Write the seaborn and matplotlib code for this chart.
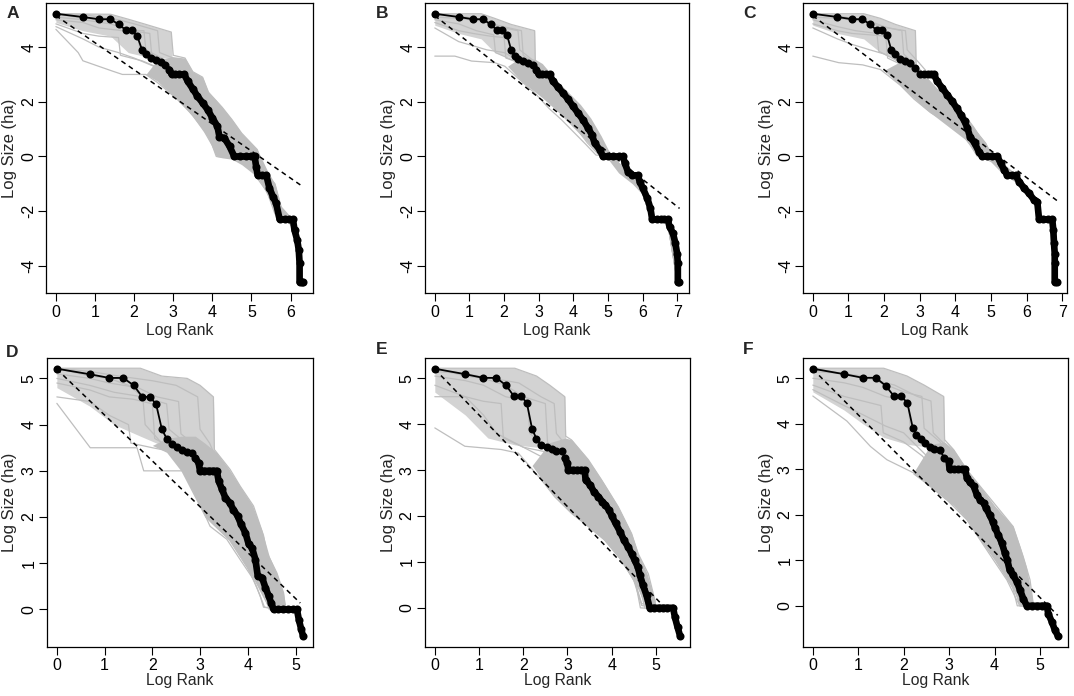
import pandas as pd
import seaborn as sns
import matplotlib.pyplot as plt

# ---------------------------------------------------------------
# Datos (log rank, log size) por panel
# ---------------------------------------------------------------
obs_x_a = [0, 0.69, 1.1, 1.39, 1.61, 1.79, 1.95, 2.08, 2.2, 2.3, 2.43, 2.55, 2.68, 2.79, 2.9,
           2.96, 3.05, 3.15, 3.28, 3.37, 3.5, 3.62, 3.75, 3.88, 4.0, 4.13, 4.18, 4.31, 4.44,
           4.56, 4.7, 4.85, 5.0, 5.08, 5.12, 5.16, 5.27, 5.38, 5.46, 5.55, 5.63, 5.72, 5.85,
           5.95, 6.06, 6.1, 6.17, 6.21, 6.23, 6.23, 6.28, 6.32]
obs_y_a = [5.22, 5.10, 5.02, 5.02, 4.83, 4.62, 4.62, 4.40, 3.91, 3.73, 3.60, 3.51, 3.45, 3.36, 3.18,
           3.0, 3.0, 3.0, 3.0, 2.75, 2.47, 2.2, 1.96, 1.71, 1.41, 1.1, 0.73, 0.67, 0.37,
           0.0, 0.0, 0.0, 0.0, 0.0, -0.37, -0.69, -0.69, -0.69, -1.16, -1.47, -1.71, -2.3, -2.3,
           -2.3, -2.3, -2.69, -3.06, -3.43, -3.91, -4.6, -4.6, -4.6]

obs_x_b = [0, 0.69, 1.1, 1.39, 1.61, 1.79, 1.95, 2.08, 2.2, 2.3, 2.4, 2.55, 2.69, 2.83, 2.93,
           3.0, 3.1, 3.2, 3.31, 3.41, 3.55, 3.7, 3.84, 3.99, 4.13, 4.27, 4.42, 4.53, 4.61,
           4.76, 4.85, 5.0, 5.15, 5.3, 5.43, 5.48, 5.57, 5.7, 5.86, 5.91, 6.0, 6.13, 6.22,
           6.27, 6.4, 6.52, 6.62, 6.72, 6.77, 6.87, 6.94, 6.99, 7.01, 7.01, 7.05]
obs_y_b = [5.22, 5.1, 5.02, 5.02, 4.83, 4.62, 4.62, 4.46, 3.91, 3.67, 3.57, 3.49, 3.43, 3.36, 3.18,
           3.0, 3.0, 3.0, 3.0, 2.75, 2.54, 2.32, 2.1, 1.83, 1.59, 1.35, 1.04, 0.8, 0.49,
           0.24, 0.0, 0.0, 0.0, 0.0, 0.0, -0.24, -0.55, -0.69, -0.69, -0.92, -1.16, -1.53, -1.9,
           -2.3, -2.3, -2.3, -2.3, -2.3, -2.57, -2.81, -3.18, -3.55, -3.91, -4.6, -4.6]

obs_x_c = [0, 0.69, 1.1, 1.39, 1.61, 1.79, 1.95, 2.08, 2.2, 2.32, 2.46, 2.6, 2.74, 2.88, 3.02,
           3.12, 3.22, 3.31, 3.4, 3.49, 3.63, 3.77, 3.91, 4.04, 4.15, 4.26, 4.34, 4.41, 4.54,
           4.66, 4.76, 4.9, 5.04, 5.18, 5.27, 5.37, 5.46, 5.58, 5.69, 5.79, 5.93, 6.07, 6.21,
           6.3, 6.35, 6.47, 6.6, 6.72, 6.75, 6.77, 6.79, 6.79, 6.79, 6.86]
obs_y_c = [5.22, 5.1, 5.02, 5.02, 4.83, 4.62, 4.62, 4.46, 3.91, 3.73, 3.57, 3.49, 3.43, 3.24, 3.0,
           3.0, 3.0, 3.0, 3.0, 2.75, 2.51, 2.26, 2.02, 1.77, 1.53, 1.28, 1.04, 0.73, 0.49,
           0.18, 0.0, 0.0, 0.0, 0.0, -0.24, -0.49, -0.69, -0.69, -0.69, -0.92, -1.16, -1.35, -1.59,
           -1.65, -2.3, -2.3, -2.3, -2.3, -2.69, -3.18, -3.55, -3.91, -4.6, -4.6]

obs_x_d = [0, 0.69, 1.1, 1.39, 1.61, 1.79, 1.95, 2.08, 2.2, 2.31, 2.41, 2.52, 2.62, 2.73, 2.83,
           2.9, 2.97, 3.0, 3.09, 3.18, 3.27, 3.35, 3.39, 3.46, 3.53, 3.62, 3.7, 3.79, 3.86,
           3.95, 4.02, 4.09, 4.16, 4.21, 4.3, 4.37, 4.44, 4.49, 4.54, 4.64, 4.74, 4.84, 4.94,
           5.03, 5.07, 5.12, 5.16]
obs_y_d = [5.21, 5.09, 5.01, 5.01, 4.85, 4.6, 4.6, 4.44, 3.9, 3.68, 3.57, 3.52, 3.46, 3.41, 3.39,
           3.28, 3.17, 3.0, 3.0, 3.0, 3.0, 3.0, 2.78, 2.6, 2.42, 2.31, 2.16, 2.02, 1.84,
           1.66, 1.41, 1.33, 1.08, 0.72, 0.69, 0.47, 0.29, 0.14, 0.0, 0.0, 0.0, 0.0, 0.0,
           0.0, -0.22, -0.43, -0.58]

obs_x_e = [0, 0.69, 1.1, 1.39, 1.61, 1.79, 1.95, 2.08, 2.2, 2.3, 2.41, 2.53, 2.64, 2.75, 2.87,
           2.94, 3.0, 3.02, 3.12, 3.22, 3.31, 3.39, 3.41, 3.51, 3.6, 3.7, 3.79, 3.86, 3.94,
           4.01, 4.09, 4.19, 4.28, 4.37, 4.45, 4.52, 4.59, 4.64, 4.71, 4.79, 4.86, 4.96, 5.06,
           5.16, 5.26, 5.39, 5.43, 5.49, 5.55]
obs_y_e = [5.21, 5.09, 5.01, 5.01, 4.85, 4.61, 4.61, 4.47, 3.9, 3.68, 3.55, 3.5, 3.46, 3.42, 3.41,
           3.26, 3.15, 3.0, 3.0, 3.0, 3.0, 3.0, 2.79, 2.68, 2.53, 2.42, 2.31, 2.24, 2.13,
           1.99, 1.84, 1.66, 1.47, 1.33, 1.18, 1.04, 0.89, 0.71, 0.49, 0.27, 0.0, 0.0, 0.0,
           0.0, 0.0, 0.0, -0.2, -0.42, -0.62]

obs_x_f = [0, 0.69, 1.1, 1.39, 1.61, 1.79, 1.95, 2.08, 2.2, 2.28, 2.38, 2.47, 2.57, 2.67, 2.8,
           2.89, 2.99, 3.01, 3.1, 3.2, 3.28, 3.35, 3.39, 3.46, 3.54, 3.61, 3.68, 3.76, 3.81,
           3.89, 3.96, 4.01, 4.08, 4.16, 4.23, 4.28, 4.33, 4.4, 4.49, 4.56, 4.63, 4.71, 4.82,
           4.93, 5.04, 5.15, 5.18, 5.26, 5.33, 5.4]
obs_y_f = [5.21, 5.09, 5.01, 5.01, 4.83, 4.6, 4.6, 4.46, 3.91, 3.76, 3.67, 3.58, 3.49, 3.45, 3.42,
           3.25, 3.18, 3.0, 3.0, 3.0, 3.0, 3.0, 2.81, 2.71, 2.63, 2.44, 2.33, 2.26, 2.15,
           2.0, 1.85, 1.71, 1.56, 1.38, 1.15, 1.01, 0.79, 0.68, 0.53, 0.35, 0.16, 0.0, 0.0,
           0.0, 0.0, 0.0, -0.17, -0.35, -0.54, -0.67]

# recta ajustada (discontinua)
fit_x_a, fit_y_a = [0, 6.31], [5.15, -1.10]
fit_x_b, fit_y_b = [0, 7.06], [5.15, -1.90]
fit_x_c, fit_y_c = [0, 6.86], [5.15, -1.62]
fit_x_d, fit_y_d = [0, 5.10], [5.20, 0.14]
fit_x_e, fit_y_e = [0, 5.09], [5.20, 0.12]
fit_x_f, fit_y_f = [0, 5.39], [5.20, -0.21]

# zona densa de simulaciones (envolvente gris)
band_x_a = [2.3, 2.6, 3.0, 3.3, 3.5, 3.75, 3.9, 4.1, 4.25, 4.5, 4.75, 5.15, 5.4, 5.6, 5.75, 6.0]
band_lo_a = [3.0, 2.75, 2.2, 1.8, 1.45, 1.0, 0.65, 0.0, -0.05, -0.1, -0.3, -0.75, -1.3, -2.0, -2.3, -2.4]
band_hi_a = [3.0, 3.55, 3.65, 3.6, 3.1, 2.9, 2.35, 2.05, 1.8, 1.35, 0.85, 0.25, -0.5, -1.0, -1.8, -2.2]
band_x_b = [2.1, 2.5, 2.9, 3.1, 3.5, 3.85, 4.2, 4.5, 4.8, 5.0, 5.3, 5.7, 6.0]
band_lo_b = [3.3, 2.75, 2.35, 2.15, 1.7, 1.25, 0.8, 0.4, 0.0, -0.1, -0.6, -1.0, -1.4]
band_hi_b = [3.3, 3.65, 3.55, 3.4, 2.8, 2.35, 1.9, 1.4, 0.75, 0.25, -0.2, -0.7, -1.1]
band_x_c = [2.0, 2.5, 2.9, 3.2, 3.6, 3.95, 4.3, 4.6, 4.85, 5.0, 5.3, 5.7, 6.1]
band_lo_c = [3.15, 2.55, 2.05, 1.7, 1.3, 0.95, 0.6, 0.05, -0.1, -0.2, -0.6, -0.95, -1.5]
band_hi_c = [3.15, 3.5, 3.35, 2.85, 2.3, 1.85, 1.4, 0.9, 0.5, 0.1, -0.2, -0.65, -1.2]
band_x_d = [2.0, 2.3, 2.6, 2.9, 3.1, 3.35, 3.6, 3.85, 4.1, 4.3, 4.45, 4.6, 4.75, 4.8]
band_lo_d = [3.55, 3.4, 3.0, 2.4, 2.0, 1.75, 1.5, 1.1, 0.7, 0.3, 0.0, -0.05, -0.05, -0.05]
band_hi_d = [3.55, 3.7, 3.75, 3.75, 3.6, 3.39, 3.05, 2.65, 2.25, 1.7, 1.15, 0.8, 0.35, 0.05]
band_x_e = [2.2, 2.6, 2.95, 3.1, 3.47, 3.8, 4.15, 4.45, 4.6, 4.8, 4.98]
band_lo_e = [3.1, 2.55, 2.2, 2.05, 1.77, 1.5, 1.1, 0.65, 0.4, -0.02, -0.02]
band_hi_e = [3.1, 3.6, 3.7, 3.66, 3.23, 2.75, 2.2, 1.62, 1.18, 0.75, 0.16]
band_x_f = [2.2, 2.6, 2.9, 3.1, 3.39, 3.68, 4.0, 4.27, 4.41, 4.56, 4.7, 4.85]
band_lo_f = [2.9, 2.6, 2.35, 2.2, 1.89, 1.45, 1.0, 0.57, 0.35, 0.0, -0.02, -0.02]
band_hi_f = [2.9, 3.55, 3.6, 3.43, 2.99, 2.63, 2.2, 1.9, 1.74, 1.3, 0.85, 0.05]

# bloque superior izquierdo (lineas grises muy juntas)
block_x_a = [0, 0.69, 1.4, 1.85, 2.3, 2.95, 2.97]
block_lo_a = [4.9, 4.6, 4.4, 3.8, 3.65, 3.6, 3.62]
block_hi_a = [5.22, 5.22, 5.2, 5.02, 4.83, 4.55, 3.67]
block_x_b = [0, 0.69, 1.34, 1.73, 2.2, 2.88, 2.9]
block_lo_b = [4.8, 4.5, 4.3, 3.8, 3.6, 3.45, 3.35]
block_hi_b = [5.22, 5.22, 5.22, 5.05, 4.83, 4.6, 3.4]
block_x_c = [0, 0.69, 1.43, 1.9, 2.32, 2.88, 2.9]
block_lo_c = [4.8, 4.5, 4.3, 3.8, 3.6, 3.4, 3.36]
block_hi_c = [5.22, 5.22, 5.22, 5.05, 4.83, 4.6, 3.4]
block_x_d = [0, 0.69, 1.2, 1.75, 2.2, 2.73, 3.0, 3.28, 3.3]
block_lo_d = [4.8, 4.4, 4.0, 3.75, 3.55, 3.5, 3.4, 3.4, 3.42]
block_hi_d = [5.22, 5.22, 5.22, 5.22, 5.05, 5.0, 4.85, 4.6, 3.46]
block_x_e = [0, 0.69, 1.2, 1.81, 2.3, 2.6, 2.94, 2.96]
block_lo_e = [4.7, 4.2, 3.7, 3.55, 3.5, 3.5, 3.5, 3.6]
block_hi_e = [5.22, 5.22, 5.22, 5.22, 5.05, 4.85, 4.6, 3.74]
block_x_f = [0, 0.69, 1.1, 1.56, 2.07, 2.45, 2.88, 2.9]
block_lo_f = [4.7, 4.3, 4.0, 3.7, 3.55, 3.5, 3.5, 3.55]
block_hi_f = [5.22, 5.22, 5.22, 5.22, 5.05, 4.85, 4.6, 3.65]

# algunas curvas simuladas (grises) leidas a ojo
sims_a = [
    [(0, 5.22), (1.4, 5.2), (1.85, 5.02), (2.3, 4.83), (2.95, 4.55), (3.0, 3.7), (3.3, 3.6), (3.5, 3.1),
     (3.75, 2.9), (3.9, 2.35), (4.25, 1.8), (4.5, 1.35), (4.75, 0.85), (5.15, 0.25), (5.3, -0.5),
     (5.6, -1.0), (5.75, -1.8), (5.85, -2.3), (6.1, -2.4), (6.25, -3.5), (6.28, -4.6)],
    [(0, 5.22), (0.69, 5.2), (1.1, 5.1), (1.6, 5.0), (2.0, 4.85), (2.6, 4.6), (2.65, 3.8), (3.0, 3.6),
     (3.3, 3.2), (3.6, 2.7), (3.9, 2.2), (4.2, 1.6), (4.45, 1.0), (4.7, 0.5), (4.95, 0.0), (5.2, -0.6),
     (5.5, -1.2), (5.7, -2.0), (5.9, -2.3), (6.15, -2.8), (6.25, -4.6)],
    [(0, 5.1), (0.69, 5.0), (1.4, 4.85), (1.9, 4.6), (2.4, 4.5), (2.45, 3.7), (2.8, 3.5), (3.1, 3.0),
     (3.5, 2.5), (3.8, 2.0), (4.1, 1.3), (4.35, 0.7), (4.6, 0.2), (4.9, -0.1), (5.2, -0.7), (5.45, -1.3),
     (5.7, -2.2), (6.0, -2.35), (6.2, -3.0), (6.26, -4.6)],
    [(0, 5.0), (0.69, 4.9), (1.1, 4.7), (1.7, 4.6), (2.1, 4.45), (2.15, 3.8), (2.6, 3.55), (2.9, 3.3),
     (3.2, 2.8), (3.5, 2.3), (3.8, 1.7), (4.0, 1.1), (4.3, 0.5), (4.5, 0.0), (5.0, -0.2), (5.2, -0.7),
     (5.5, -1.4), (5.65, -2.3), (6.05, -2.3), (6.2, -3.3), (6.24, -4.6)],
    [(0, 4.85), (0.69, 4.5), (1.1, 4.4), (1.6, 4.35), (1.65, 3.7), (2.2, 3.5), (2.7, 3.2), (3.0, 2.9),
     (3.3, 2.4), (3.6, 1.9), (3.9, 1.3), (4.1, 0.6), (4.3, 0.1), (4.9, 0.0), (5.15, -0.7), (5.4, -1.2),
     (5.65, -2.0), (5.8, -2.3), (6.1, -2.5), (6.22, -4.6)],
    [(0, 4.65), (0.57, 3.8), (0.69, 3.5), (1.45, 3.12), (1.7, 3.0), (2.3, 3.0), (2.6, 2.7), (3.1, 2.1),
     (3.5, 1.5), (3.8, 0.9), (4.0, 0.4), (4.1, 0.0), (4.8, -0.1), (5.1, -0.7), (5.4, -1.3), (5.6, -2.1),
     (5.75, -2.3), (6.1, -2.4), (6.2, -3.4), (6.23, -4.6)],
    [(0, 5.22), (0.69, 5.05), (1.1, 5.0), (1.5, 4.9), (1.75, 4.62), (2.25, 4.6), (2.3, 3.9), (2.7, 3.6),
     (3.1, 3.3), (3.4, 2.9), (3.7, 2.4), (4.0, 1.9), (4.3, 1.2), (4.55, 0.6), (4.8, 0.1), (5.1, -0.3),
     (5.35, -0.9), (5.6, -1.5), (5.75, -2.3), (6.1, -2.3), (6.22, -3.2), (6.26, -4.6)],
    [(0, 4.75), (0.69, 4.3), (1.1, 4.0), (1.6, 3.8), (2.0, 3.6), (2.5, 3.3), (2.8, 3.0), (3.2, 2.5),
     (3.5, 2.0), (3.8, 1.4), (4.0, 0.9), (4.2, 0.3), (4.4, 0.0), (4.9, -0.2), (5.2, -0.8), (5.5, -1.6),
     (5.7, -2.3), (6.0, -2.4), (6.2, -3.6), (6.24, -4.6)],
]
sims_b = [
    [(0, 5.22), (1.34, 5.22), (1.73, 5.05), (2.2, 4.83), (2.88, 4.6), (2.9, 3.35), (3.2, 3.0), (3.5, 2.65),
     (3.85, 2.05), (4.25, 1.55), (4.55, 0.95), (4.85, 0.45), (5.05, 0.0), (5.3, -0.4), (5.7, -0.85),
     (6.0, -1.2), (6.2, -1.7), (6.3, -2.3), (6.7, -2.3), (7.0, -3.5), (7.03, -4.6)],
    [(0, 5.1), (0.69, 5.05), (1.4, 4.95), (1.8, 4.8), (2.5, 4.6), (2.55, 3.7), (2.9, 3.4), (3.3, 2.8),
     (3.7, 2.3), (4.1, 1.6), (4.4, 1.0), (4.7, 0.4), (4.9, 0.0), (5.4, -0.1), (5.6, -0.7), (5.9, -0.9),
     (6.2, -1.8), (6.3, -2.3), (6.75, -2.3), (7.0, -3.8), (7.02, -4.6)],
    [(0, 4.9), (0.69, 4.6), (1.1, 4.5), (1.6, 4.4), (2.0, 4.35), (2.05, 3.6), (2.5, 3.4), (2.9, 3.0),
     (3.3, 2.4), (3.7, 1.9), (4.0, 1.4), (4.3, 0.9), (4.6, 0.3), (4.8, 0.0), (5.4, -0.1), (5.6, -0.7),
     (5.9, -1.0), (6.2, -1.9), (6.3, -2.3), (6.7, -2.3), (7.0, -4.6)],
    [(0, 4.7), (0.69, 4.2), (1.1, 4.05), (1.5, 3.9), (2.0, 3.8), (2.3, 3.6), (2.6, 3.2), (3.0, 2.6),
     (3.4, 2.0), (3.8, 1.5), (4.1, 1.0), (4.4, 0.5), (4.7, 0.1), (5.4, 0.0), (5.6, -0.7), (5.9, -1.0),
     (6.25, -2.3), (6.7, -2.3), (7.0, -4.6)],
    [(0, 3.67), (0.58, 3.67), (1.06, 3.49), (1.73, 3.43), (2.02, 3.3), (2.5, 2.75), (2.9, 2.3),
     (3.3, 1.75), (3.65, 1.35), (4.03, 0.86), (4.35, 0.45), (4.65, 0.05), (5.4, 0.0), (5.6, -0.7),
     (5.9, -1.0), (6.25, -2.3), (6.7, -2.3), (7.0, -4.6)],
    [(0, 5.22), (0.69, 5.15), (1.1, 5.05), (1.6, 4.9), (2.0, 4.7), (2.4, 4.6), (2.45, 3.9), (2.8, 3.55),
     (3.2, 3.1), (3.6, 2.6), (4.0, 2.0), (4.3, 1.4), (4.6, 0.8), (4.9, 0.3), (5.1, 0.0), (5.5, -0.5),
     (5.9, -0.95), (6.2, -1.6), (6.3, -2.3), (6.75, -2.3), (7.02, -4.6)],
    [(0, 5.0), (0.69, 4.85), (1.2, 4.6), (1.7, 4.45), (1.75, 3.8), (2.2, 3.55), (2.7, 3.3), (3.1, 2.8),
     (3.5, 2.3), (3.9, 1.7), (4.2, 1.2), (4.5, 0.6), (4.75, 0.1), (5.4, 0.0), (5.6, -0.7), (5.9, -1.0),
     (6.25, -2.3), (6.7, -2.3), (7.0, -4.6)],
]
sims_c = [
    [(0, 5.22), (1.43, 5.22), (1.9, 5.05), (2.32, 4.83), (2.88, 4.6), (2.9, 3.36), (3.21, 2.85),
     (3.59, 2.32), (3.96, 1.83), (4.34, 1.35), (4.62, 0.86), (4.85, 0.49), (5.0, 0.1), (5.3, -0.25),
     (5.7, -0.7), (6.1, -1.25), (6.3, -1.7), (6.35, -2.3), (6.72, -2.3), (6.78, -4.6)],
    [(0, 5.1), (0.69, 5.05), (1.4, 4.95), (1.8, 4.8), (2.5, 4.6), (2.55, 3.75), (2.9, 3.3), (3.3, 2.7),
     (3.7, 2.1), (4.1, 1.6), (4.45, 1.0), (4.7, 0.5), (4.85, 0.0), (5.3, -0.3), (5.6, -0.7), (6.0, -1.3),
     (6.3, -1.8), (6.35, -2.3), (6.72, -2.3), (6.78, -4.6)],
    [(0, 4.85), (0.69, 4.6), (1.1, 4.5), (1.6, 4.45), (2.05, 4.4), (2.1, 3.6), (2.5, 3.35), (2.9, 2.9),
     (3.3, 2.35), (3.7, 1.8), (4.0, 1.4), (4.35, 0.9), (4.6, 0.3), (4.8, 0.0), (5.2, -0.1), (5.5, -0.7),
     (5.9, -1.1), (6.3, -1.7), (6.35, -2.3), (6.72, -2.3), (6.78, -4.6)],
    [(0, 4.7), (0.69, 4.3), (1.1, 4.1), (1.6, 3.9), (2.0, 3.75), (2.4, 3.5), (2.8, 3.0), (3.2, 2.4),
     (3.6, 1.8), (3.95, 1.3), (4.3, 0.8), (4.6, 0.2), (4.75, 0.0), (5.2, -0.1), (5.5, -0.7), (5.9, -1.1),
     (6.3, -1.7), (6.35, -2.3), (6.72, -2.3), (6.78, -4.6)],
    [(0, 3.67), (0.73, 3.43), (1.4, 3.35), (1.9, 3.18), (2.46, 2.6), (2.84, 2.1), (3.31, 1.6),
     (3.77, 1.25), (4.15, 0.88), (4.43, 0.4), (4.62, 0.0), (5.2, -0.05), (5.5, -0.7), (5.9, -1.05),
     (6.3, -1.7), (6.35, -2.3), (6.72, -2.3), (6.78, -4.6)],
    [(0, 5.22), (0.69, 5.15), (1.1, 5.05), (1.7, 4.9), (2.1, 4.7), (2.6, 4.6), (2.65, 3.9), (3.0, 3.4),
     (3.4, 2.8), (3.8, 2.2), (4.15, 1.7), (4.5, 1.1), (4.75, 0.6), (4.95, 0.2), (5.2, -0.1), (5.6, -0.6),
     (6.0, -1.2), (6.3, -1.65), (6.35, -2.3), (6.72, -2.3), (6.78, -4.6)],
    [(0, 5.0), (0.69, 4.75), (1.2, 4.6), (1.8, 4.5), (1.85, 3.85), (2.3, 3.55), (2.7, 3.2), (3.1, 2.6),
     (3.5, 2.1), (3.9, 1.5), (4.2, 1.1), (4.5, 0.6), (4.7, 0.1), (5.2, 0.0), (5.5, -0.7), (5.9, -1.1),
     (6.3, -1.7), (6.35, -2.3), (6.72, -2.3), (6.78, -4.6)],
]
sims_d = [
    [(0, 5.22), (1.75, 5.22), (2.2, 5.05), (2.73, 5.0), (3.0, 4.85), (3.28, 4.6), (3.3, 3.46),
     (3.63, 3.03), (3.84, 2.67), (4.12, 2.24), (4.33, 1.6), (4.4, 1.23), (4.61, 0.79), (4.75, 0.36),
     (4.78, 0.0), (5.05, -0.05), (5.12, -0.45), (5.15, -0.57)],
    [(0, 5.22), (0.69, 5.15), (1.3, 5.05), (2.0, 4.95), (2.5, 4.85), (2.95, 4.6), (3.0, 3.9), (3.2, 3.6),
     (3.45, 3.0), (3.7, 2.6), (3.95, 2.1), (4.2, 1.6), (4.4, 1.0), (4.6, 0.5), (4.7, 0.0), (5.05, -0.05),
     (5.12, -0.45), (5.15, -0.57)],
    [(0, 5.1), (0.69, 5.0), (1.1, 4.9), (1.7, 4.8), (2.1, 4.6), (2.55, 4.5), (2.6, 3.8), (2.9, 3.55),
     (3.1, 3.3), (3.4, 2.7), (3.7, 2.2), (3.95, 1.7), (4.2, 1.1), (4.45, 0.5), (4.6, 0.0), (5.05, -0.05),
     (5.15, -0.57)],
    [(0, 4.9), (0.69, 4.75), (1.1, 4.6), (1.6, 4.55), (2.0, 4.45), (2.05, 3.7), (2.4, 3.5), (2.8, 3.3),
     (3.0, 3.0), (3.3, 2.5), (3.6, 2.0), (3.85, 1.5), (4.1, 0.9), (4.35, 0.3), (4.45, 0.0), (5.05, -0.05),
     (5.15, -0.57)],
    [(0, 4.6), (0.69, 4.5), (1.1, 4.2), (1.5, 4.0), (1.55, 3.6), (2.0, 3.5), (2.5, 3.4), (2.8, 3.0),
     (3.1, 2.4), (3.4, 1.9), (3.7, 1.4), (4.0, 0.9), (4.2, 0.45), (4.35, 0.05), (5.05, -0.05), (5.15, -0.57)],
    [(0, 4.46), (0.7, 3.5), (1.68, 3.5), (1.82, 3.0), (2.9, 3.0), (2.95, 2.4), (3.21, 1.8), (3.56, 1.52),
     (3.84, 1.08), (4.12, 0.65), (4.26, 0.29), (4.33, 0.05), (5.05, -0.05), (5.15, -0.57)],
    [(0, 5.0), (0.69, 4.85), (1.2, 4.7), (1.8, 4.6), (2.3, 4.45), (2.35, 3.9), (2.7, 3.6), (3.0, 3.4),
     (3.2, 3.0), (3.5, 2.6), (3.8, 2.2), (4.05, 1.7), (4.3, 1.1), (4.5, 0.6), (4.65, 0.1), (5.05, -0.05),
     (5.15, -0.57)],
    [(0, 5.22), (0.69, 5.05), (1.1, 5.0), (1.5, 4.85), (1.8, 4.6), (1.85, 4.0), (2.2, 3.6), (2.6, 3.45),
     (2.9, 3.2), (3.2, 2.8), (3.5, 2.3), (3.8, 1.8), (4.05, 1.3), (4.3, 0.7), (4.5, 0.2), (4.55, 0.0),
     (5.05, -0.05), (5.15, -0.57)],
]
sims_e = [
    [(0, 5.22), (1.81, 5.22), (2.3, 5.05), (2.6, 4.85), (2.94, 4.6), (2.96, 3.74), (3.09, 3.66),
     (3.47, 3.23), (3.77, 2.79), (4.15, 2.2), (4.45, 1.62), (4.6, 1.18), (4.83, 0.74), (4.98, 0.16),
     (5.0, 0.0), (5.4, -0.05), (5.5, -0.45), (5.55, -0.63)],
    [(0, 5.15), (0.69, 5.1), (1.3, 5.0), (1.9, 4.9), (2.4, 4.6), (2.7, 4.45), (2.75, 3.8), (3.0, 3.5),
     (3.3, 3.1), (3.7, 2.6), (4.05, 2.0), (4.35, 1.5), (4.6, 0.9), (4.8, 0.3), (4.9, 0.0), (5.4, -0.05),
     (5.55, -0.63)],
    [(0, 5.05), (0.69, 4.95), (1.1, 4.85), (1.6, 4.6), (2.1, 4.5), (2.15, 3.8), (2.5, 3.5), (2.8, 3.3),
     (3.1, 2.9), (3.5, 2.4), (3.85, 1.9), (4.2, 1.35), (4.5, 0.8), (4.7, 0.2), (4.75, 0.0), (5.4, -0.05),
     (5.55, -0.63)],
    [(0, 4.85), (0.69, 4.6), (1.1, 4.5), (1.5, 4.45), (1.55, 3.7), (2.0, 3.5), (2.5, 3.4), (2.8, 3.0),
     (3.2, 2.5), (3.6, 2.05), (3.95, 1.6), (4.3, 1.05), (4.55, 0.5), (4.65, 0.0), (5.4, -0.05), (5.55, -0.63)],
    [(0, 4.6), (0.69, 4.6), (1.1, 4.2), (1.4, 3.8), (1.9, 3.55), (2.4, 3.3), (2.7, 2.8), (3.1, 2.3),
     (3.5, 1.9), (3.9, 1.5), (4.25, 1.0), (4.5, 0.6), (4.68, 0.05), (5.4, -0.05), (5.55, -0.63)],
    [(0, 3.92), (0.68, 3.52), (1.5, 3.45), (1.89, 3.37), (2.41, 2.79), (2.71, 2.42), (3.09, 2.06),
     (3.47, 1.77), (3.85, 1.47), (4.22, 1.04), (4.52, 0.6), (4.68, 0.09), (5.4, 0.0), (5.55, -0.63)],
    [(0, 5.22), (0.69, 5.05), (1.1, 5.0), (1.6, 4.85), (2.0, 4.6), (2.5, 4.45), (2.55, 3.6), (2.9, 3.4),
     (3.2, 3.0), (3.6, 2.7), (3.95, 2.3), (4.25, 1.8), (4.5, 1.3), (4.7, 0.8), (4.85, 0.2), (4.9, 0.0),
     (5.4, -0.05), (5.55, -0.63)],
]
sims_f = [
    [(0, 5.22), (1.56, 5.22), (2.07, 5.05), (2.45, 4.85), (2.88, 4.6), (2.9, 3.65), (3.1, 3.43),
     (3.39, 2.99), (3.68, 2.63), (4.05, 2.18), (4.41, 1.74), (4.63, 1.08), (4.78, 0.57), (4.85, 0.05),
     (5.15, 0.0), (5.25, -0.35), (5.38, -0.67)],
    [(0, 5.15), (0.69, 5.1), (1.2, 5.0), (1.8, 4.85), (2.3, 4.6), (2.6, 4.5), (2.65, 3.8), (2.95, 3.5),
     (3.3, 3.0), (3.65, 2.55), (4.0, 2.0), (4.3, 1.5), (4.55, 0.9), (4.7, 0.3), (4.75, 0.0), (5.15, 0.0),
     (5.38, -0.67)],
    [(0, 5.0), (0.69, 4.9), (1.1, 4.8), (1.6, 4.6), (2.1, 4.5), (2.15, 3.8), (2.5, 3.55), (2.8, 3.2),
     (3.2, 2.7), (3.55, 2.2), (3.9, 1.75), (4.2, 1.2), (4.45, 0.6), (4.6, 0.05), (5.15, 0.0), (5.38, -0.67)],
    [(0, 4.85), (0.69, 4.6), (1.1, 4.5), (1.5, 4.4), (1.55, 3.8), (2.0, 3.6), (2.4, 3.3), (2.8, 2.9),
     (3.2, 2.4), (3.55, 2.0), (3.9, 1.5), (4.2, 0.95), (4.4, 0.4), (4.5, 0.0), (5.15, 0.0), (5.38, -0.67)],
    [(0, 4.61), (0.75, 4.06), (1.27, 3.5), (1.63, 3.21), (2.22, 2.92), (2.58, 2.63), (2.95, 2.33),
     (3.39, 1.89), (3.68, 1.45), (3.98, 1.0), (4.27, 0.57), (4.49, 0.12), (4.56, 0.0), (5.15, 0.0),
     (5.38, -0.67)],
    [(0, 5.22), (0.69, 5.1), (1.1, 5.05), (1.5, 4.9), (2.0, 4.7), (2.4, 4.6), (2.45, 3.9), (2.8, 3.6),
     (3.1, 3.2), (3.45, 2.75), (3.8, 2.3), (4.15, 1.8), (4.4, 1.3), (4.6, 0.7), (4.7, 0.2), (4.75, 0.0),
     (5.15, 0.0), (5.38, -0.67)],
    [(0, 4.75), (0.69, 4.4), (1.1, 4.2), (1.6, 3.95), (2.0, 3.8), (2.3, 3.5), (2.7, 3.1), (3.0, 2.7),
     (3.4, 2.25), (3.75, 1.8), (4.1, 1.3), (4.35, 0.7), (4.5, 0.2), (4.55, 0.0), (5.15, 0.0), (5.38, -0.67)],
]

xticks_top_a = [0, 1, 2, 3, 4, 5, 6]
xticks_top_bc = [0, 1, 2, 3, 4, 5, 6, 7]
xticks_bottom = [0, 1, 2, 3, 4, 5]
yticks_top = [-4, -2, 0, 2, 4]
yticks_bottom = [0, 1, 2, 3, 4, 5]

GRIS = '#bebebe'
GRIS_CLARO = '#d3d3d3'
W, H = 1074, 696

sns.set_theme(style="ticks", rc={'axes.edgecolor': 'black', 'xtick.color': 'black',
                                 'ytick.color': 'black', 'axes.linewidth': 0.9})
plt.rcParams['font.family'] = ['Liberation Sans', 'DejaVu Sans']
plt.rcParams['axes.unicode_minus'] = False

fig = plt.figure(figsize=(W / 100, H / 100), dpi=100)


def rango_r(valores):
    # limites estilo R: 4% a cada lado
    lo, hi = min(valores), max(valores)
    d = (hi - lo) * 0.04
    return lo - d, hi + d


def dibujar_panel(caja, letra, pos_letra, obs_x, obs_y, fit_x, fit_y, band, block,
                  sims, xticks, yticks, fila):
    izq, der, arr, aba = caja
    ax = fig.add_axes([izq / W, (H - aba) / H, (der - izq) / W, (aba - arr) / H])

    filas = []
    for k, curva in enumerate(sims):
        for x, y in curva:
            filas.append((k, x, y))
    df_sim = pd.DataFrame(filas, columns=['run', 'log_rank', 'log_size'])

    ax.fill_between(block[0], block[1], block[2], color=GRIS_CLARO, linewidth=0, zorder=1)
    ax.fill_between(band[0], band[1], band[2], color=GRIS, linewidth=0, zorder=1)
    sns.lineplot(data=df_sim, x='log_rank', y='log_size', units='run', estimator=None,
                 sort=False, color=GRIS, lw=0.9, ax=ax, zorder=2)

    # tramo denso de la curva observada: los puntos se solapan en una linea gruesa
    umbral = 2.9
    dx = [x for x in obs_x if x >= umbral]
    dy = [y for x, y in zip(obs_x, obs_y) if x >= umbral]
    ax.plot(dx, dy, color='black', lw=4.8, solid_capstyle='round', solid_joinstyle='round',
            zorder=3)
    sns.lineplot(x=obs_x, y=obs_y, estimator=None, sort=False, color='black', lw=1.3,
                 marker='o', markersize=5.8, markeredgewidth=0, markeredgecolor='black',
                 ax=ax, zorder=4)
    ax.plot(fit_x, fit_y, color='black', lw=1.1, ls=(0, (3.2, 2.6)), zorder=5)

    ax.set_xlim(*rango_r(obs_x))
    ax.set_ylim(*rango_r(obs_y))
    ax.set_xticks(xticks)
    ax.set_yticks(yticks)
    for s in ax.spines.values():
        s.set_visible(True)
        s.set_color('black')
        s.set_linewidth(0.9)

    if fila == 0:
        xpad, ypad, xlab_y = 3.0, 1.2, -0.104
    else:
        xpad, ypad, xlab_y = 2.4, 2.2, -0.09
    ax.tick_params(axis='both', direction='out', length=5.5, width=0.8, labelsize=11.5,
                   colors='black')
    ax.tick_params(axis='x', pad=xpad)
    ax.tick_params(axis='y', pad=ypad)
    plt.setp(ax.get_yticklabels(), rotation=90, va='center', ha='right')

    ax.set_xlabel('Log Rank', fontsize=11.3)
    ax.set_ylabel('Log Size (ha)', fontsize=12)
    ax.xaxis.set_label_coords(0.5, xlab_y)
    ax.yaxis.set_label_coords(-29.5 / (der - izq), 0.5)

    fig.text(pos_letra[0] / W, 1 - pos_letra[1] / H, letra, fontsize=12.5, fontweight='bold',
             ha='left', va='top')
    return ax


dibujar_panel((46, 313, 3, 293), 'A', (7, 6), obs_x_a, obs_y_a, fit_x_a, fit_y_a,
              (band_x_a, band_lo_a, band_hi_a), (block_x_a, block_lo_a, block_hi_a),
              sims_a, xticks_top_a, yticks_top, 0)
dibujar_panel((425, 689, 3, 293), 'B', (376, 6), obs_x_b, obs_y_b, fit_x_b, fit_y_b,
              (band_x_b, band_lo_b, band_hi_b), (block_x_b, block_lo_b, block_hi_b),
              sims_b, xticks_top_bc, yticks_top, 0)
dibujar_panel((803, 1067, 3, 293), 'C', (743, 6), obs_x_c, obs_y_c, fit_x_c, fit_y_c,
              (band_x_c, band_lo_c, band_hi_c), (block_x_c, block_lo_c, block_hi_c),
              sims_c, xticks_top_bc, yticks_top, 0)
dibujar_panel((47, 313, 358, 647), 'D', (6, 345), obs_x_d, obs_y_d, fit_x_d, fit_y_d,
              (band_x_d, band_lo_d, band_hi_d), (block_x_d, block_lo_d, block_hi_d),
              sims_d, xticks_bottom, yticks_bottom, 1)
dibujar_panel((425, 690, 358, 647), 'E', (376, 342), obs_x_e, obs_y_e, fit_x_e, fit_y_e,
              (band_x_e, band_lo_e, band_hi_e), (block_x_e, block_lo_e, block_hi_e),
              sims_e, xticks_bottom, yticks_bottom, 1)
dibujar_panel((803, 1068, 358, 647), 'F', (743, 342), obs_x_f, obs_y_f, fit_x_f, fit_y_f,
              (band_x_f, band_lo_f, band_hi_f), (block_x_f, block_lo_f, block_hi_f),
              sims_f, xticks_bottom, yticks_bottom, 1)

fig.savefig('out.png', dpi=100)
